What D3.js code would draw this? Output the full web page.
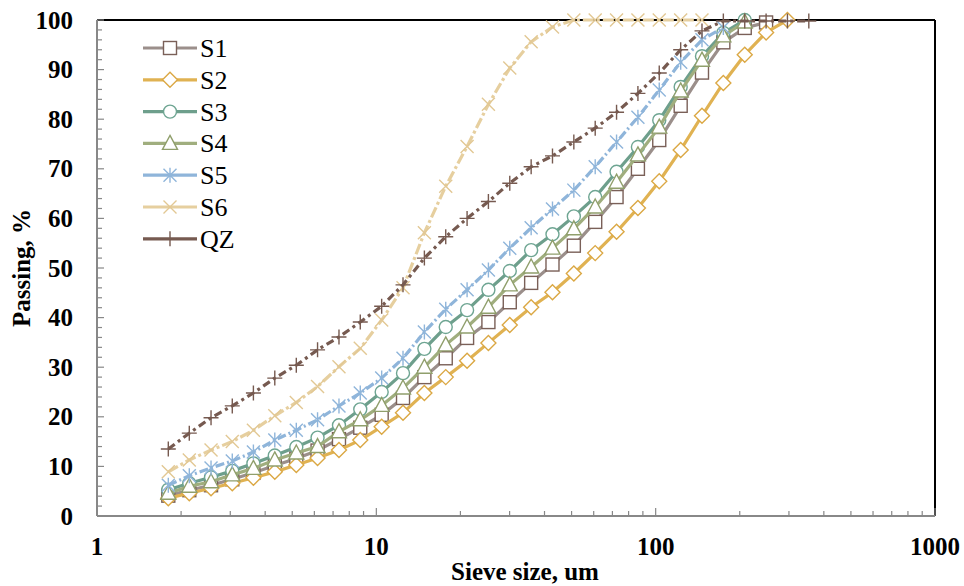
<!DOCTYPE html>
<html><head><meta charset="utf-8">
<script src="https://cdn.jsdelivr.net/npm/d3@7"></script>
<style>
html,body{margin:0;padding:0;background:#fff;}
svg{display:block;}
text{font-family:"Liberation Serif","Times New Roman",serif;}
</style></head>
<body>
<svg id="chart" width="964" height="586"></svg>
<script>
// ---- data ----
const sizes = [1.80, 2.14, 2.56, 3.05, 3.63, 4.33, 5.17, 6.16, 7.35, 8.76, 10.45, 12.46, 14.86, 17.72, 21.13, 25.19, 30.04, 35.83, 42.72, 50.94, 60.75, 72.44, 86.39, 103.0, 122.9, 146.5, 174.7, 208.4, 248.5, 296.3, 353.4];
const seriesNames = ["S1", "S2", "S3", "S4", "S5", "S6", "QZ"];
const s1 = [4.1, 5.2, 6.2, 7.4, 8.7, 10.2, 11.6, 13.2, 15.5, 17.8, 20.4, 23.8, 28.0, 31.8, 35.9, 39.1, 43.1, 47.0, 50.7, 54.5, 59.3, 64.3, 70.0, 75.8, 82.7, 89.4, 95.5, 98.4, 99.5];
const s2 = [3.6, 4.6, 5.6, 6.6, 7.7, 8.9, 10.3, 11.7, 13.3, 15.3, 18.0, 20.8, 24.8, 28.0, 31.3, 34.9, 38.5, 42.1, 45.1, 48.9, 53.0, 57.3, 62.1, 67.5, 73.8, 80.7, 87.3, 93.0, 97.5, 100];
const s3 = [5.3, 6.6, 7.8, 9.1, 10.6, 12.2, 13.9, 15.8, 18.3, 21.5, 25.0, 28.8, 33.7, 38.1, 41.5, 45.6, 49.4, 53.6, 56.8, 60.4, 64.3, 69.4, 74.4, 79.8, 86.5, 92.7, 97.4, 100];
const s4 = [4.6, 6.0, 6.9, 8.3, 9.6, 11.3, 12.7, 14.0, 17.0, 19.4, 22.3, 25.8, 30.0, 34.5, 38.1, 42.1, 46.6, 50.2, 54.0, 57.9, 62.3, 67.3, 72.8, 78.4, 85.7, 91.9, 96.8, 99.6];
const s5 = [6.2, 8.1, 9.7, 11.1, 12.9, 15.3, 17.3, 19.4, 22.2, 24.8, 27.8, 31.8, 37.1, 41.7, 45.6, 49.6, 54.0, 58.1, 61.9, 65.7, 70.4, 75.4, 80.4, 85.9, 91.5, 96.0, 98.5];
const s6 = [8.9, 11.3, 13.3, 15.0, 17.3, 20.2, 22.9, 26.1, 30.1, 33.8, 39.5, 46.0, 57.1, 66.5, 74.5, 83.0, 90.3, 95.6, 98.6, 100, 100, 100, 100, 100, 100, 100];
const qz = [13.5, 16.7, 19.8, 22.2, 24.8, 27.8, 30.4, 33.5, 36.1, 39.1, 42.3, 46.6, 52.0, 56.3, 60.0, 63.4, 67.1, 70.4, 72.6, 75.4, 78.2, 81.4, 85.2, 89.3, 94.0, 97.8, 99.8, 99.8, 99.8, 99.8, 99.8];
const xTickValues = [1, 10, 100, 1000];
const yTickValues = [0, 10, 20, 30, 40, 50, 60, 70, 80, 90, 100];
const xTitle = "Sieve size, um";
const yTitle = "Passing, %";

// ---- styles ----
const styles = {
  S1: {line: "#9b8f8b", mark: "#7a6058", dash: null, sym: "square"},
  S2: {line: "#e0b252", mark: "#dba844", dash: null, sym: "diamond"},
  S3: {line: "#6e9f8c", mark: "#6ea592", dash: null, sym: "circle"},
  S4: {line: "#a0ae7e", mark: "#909f6c", dash: null, sym: "triangle"},
  S5: {line: "#8fb5da", mark: "#8fb5da", dash: "9,3,2,3", sym: "asterisk"},
  S6: {line: "#e6cf9f", mark: "#e2c894", dash: "11,3,3,3", sym: "x"},
  QZ: {line: "#765a50", mark: "#765a50", dash: "8,4,3,4", sym: "plus"}
};
const dataArrays = [s1, s2, s3, s4, s5, s6, qz];

const svg = d3.select("#chart");
const x = d3.scaleLog().domain([1, 1000]).range([97, 935]);
const y = d3.scaleLinear().domain([0, 100]).range([516, 20]);

// frame: top & right black
svg.append("line").attr("x1", 97).attr("x2", 935).attr("y1", y(100)).attr("y2", y(100)).attr("stroke", "#000").attr("stroke-width", 2);
svg.append("line").attr("x1", 935).attr("x2", 935).attr("y1", y(100)).attr("y2", y(0)).attr("stroke", "#000").attr("stroke-width", 2);

// y axis
const yMinor = d3.range(0, 101, 2);
const gy = svg.append("g");
gy.append("line").attr("x1", 97).attr("x2", 97).attr("y1", y(0)).attr("y2", y(100)).attr("stroke", "#888").attr("stroke-width", 2);
gy.selectAll("line.mn").data(yMinor).enter().append("line")
  .attr("x1", 97).attr("x2", d => 97 + (d % 10 === 0 ? 7 : 5))
  .attr("y1", d => y(d)).attr("y2", d => y(d)).attr("stroke", "#888").attr("stroke-width", 1.2);
gy.selectAll("text").data(yTickValues).enter().append("text")
  .attr("x", 73).attr("y", d => y(d) + 8.5).attr("text-anchor", "end")
  .attr("font-size", 25).attr("font-weight", "bold").text(d => d);

// x axis
const xMinor = [];
[1, 10, 100].forEach(dec => { for (let m = 2; m <= 9; m++) xMinor.push(dec * m); });
const gx = svg.append("g");
gx.append("line").attr("x1", 97).attr("x2", 935).attr("y1", y(0)).attr("y2", y(0)).attr("stroke", "#888").attr("stroke-width", 2);
gx.selectAll("line.mj").data(xTickValues).enter().append("line")
  .attr("x1", d => x(d)).attr("x2", d => x(d)).attr("y1", y(0)).attr("y2", y(0) - 8).attr("stroke", "#888").attr("stroke-width", 1.2);
gx.selectAll("line.mn").data(xMinor).enter().append("line")
  .attr("x1", d => x(d)).attr("x2", d => x(d)).attr("y1", y(0)).attr("y2", y(0) - 5).attr("stroke", "#888").attr("stroke-width", 1.2);
gx.selectAll("text").data(xTickValues).enter().append("text")
  .attr("x", d => x(d)).attr("y", 555).attr("text-anchor", "middle")
  .attr("font-size", 25).attr("font-weight", "bold").text(d => d);

// titles
svg.append("text").attr("x", 525).attr("y", 580).attr("text-anchor", "middle")
  .attr("font-size", 25).attr("font-weight", "bold").text(xTitle);
svg.append("text").attr("transform", "translate(30,268) rotate(-90)").attr("text-anchor", "middle")
  .attr("font-size", 25).attr("font-weight", "bold").text(yTitle);

// markers
function drawMarker(g, sym, color, cx, cy) {
  const sw = 1.4;
  if (sym === "square") {
    g.append("rect").attr("x", cx - 6.5).attr("y", cy - 6.5).attr("width", 13).attr("height", 13)
      .attr("fill", "#fff").attr("stroke", color).attr("stroke-width", sw);
  } else if (sym === "diamond") {
    g.append("path").attr("d", `M${cx},${cy-7.5}L${cx+7.5},${cy}L${cx},${cy+7.5}L${cx-7.5},${cy}Z`)
      .attr("fill", "#fff").attr("stroke", color).attr("stroke-width", sw);
  } else if (sym === "circle") {
    g.append("circle").attr("cx", cx).attr("cy", cy).attr("r", 6.5)
      .attr("fill", "#fff").attr("stroke", color).attr("stroke-width", sw);
  } else if (sym === "triangle") {
    g.append("path").attr("d", `M${cx},${cy-8}L${cx+7.5},${cy+6}L${cx-7.5},${cy+6}Z`)
      .attr("fill", "#fff").attr("stroke", color).attr("stroke-width", sw);
  } else if (sym === "asterisk") {
    g.append("path").attr("d", `M${cx},${cy-7.5}V${cy+7.5}M${cx-6.5},${cy-6.5}L${cx+6.5},${cy+6.5}M${cx-6.5},${cy+6.5}L${cx+6.5},${cy-6.5}`)
      .attr("fill", "none").attr("stroke", color).attr("stroke-width", sw);
  } else if (sym === "x") {
    g.append("path").attr("d", `M${cx-6.5},${cy-6.5}L${cx+6.5},${cy+6.5}M${cx-6.5},${cy+6.5}L${cx+6.5},${cy-6.5}`)
      .attr("fill", "none").attr("stroke", color).attr("stroke-width", sw);
  } else if (sym === "plus") {
    g.append("path").attr("d", `M${cx},${cy-7.5}V${cy+7.5}M${cx-7.5},${cy}H${cx+7.5}`)
      .attr("fill", "none").attr("stroke", color).attr("stroke-width", sw);
  }
}

const line = d3.line().x(d => x(d[0])).y(d => y(d[1]));

seriesNames.forEach((name, i) => {
  const st = styles[name];
  const pts = dataArrays[i].map((v, k) => [sizes[k], v]);
  const g = svg.append("g");
  g.append("path").datum(pts).attr("d", line).attr("fill", "none")
    .attr("stroke", st.line).attr("stroke-width", 3.2)
    .attr("stroke-dasharray", st.dash);
  pts.forEach(p => drawMarker(g, st.sym, st.mark, x(p[0]), y(p[1])));
});

// legend
const lg = svg.append("g");
seriesNames.forEach((name, i) => {
  const st = styles[name];
  const ly = 48 + i * 31.8;
  lg.append("line").attr("x1", 143).attr("x2", 197).attr("y1", ly).attr("y2", ly)
    .attr("stroke", st.line).attr("stroke-width", 3.2);
  drawMarker(lg, st.sym, st.mark, 170, ly);
  lg.append("text").attr("x", 200).attr("y", ly + 9).attr("font-size", 26).text(name);
});
</script>
</body></html>
